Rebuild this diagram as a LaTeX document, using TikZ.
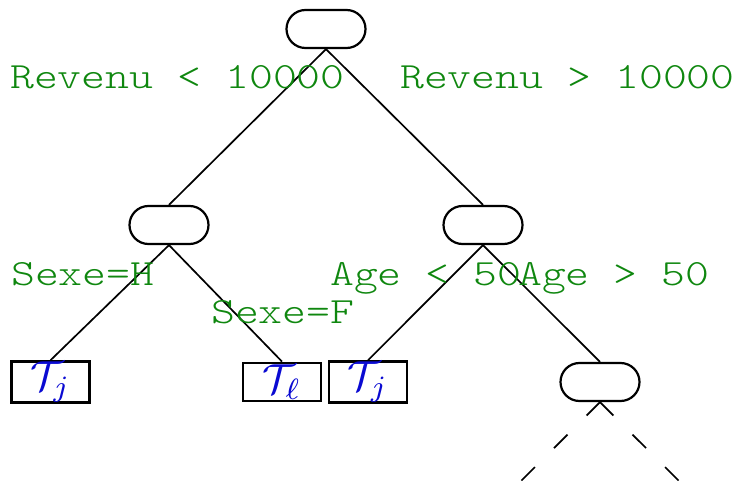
\documentclass[tikz,border=0pt]{standalone}
\usepackage{graphicx}
\usepackage{fontspec}
\usetikzlibrary{shapes.misc}
\newfontfamily\labelfont{lmmonolt10-regular.otf}[FakeStretch=1.23]
\definecolor{labelgreen}{RGB}{15,135,15}
\definecolor{leafblue}{RGB}{10,10,210}
\newcommand{\leaftext}[1]{\scalebox{4.2}{$#1$}}
\tikzset{
    test/.style={rounded rectangle, draw, line width=2.2pt, minimum width=79pt, minimum height=38pt, inner sep=0pt},
    leaf/.style={rectangle, draw, line width=2.8pt, minimum width=78pt, minimum height=38pt, inner sep=0pt, text=leafblue},
    cond/.style={anchor=base west, inner sep=0pt, text=labelgreen, font=\fontsize{37}{44}\labelfont},
    branch/.style={line width=1.7pt}
}
\begin{document}
\begin{tikzpicture}[x=1pt,y=-1pt]
    \useasboundingbox (0,0) rectangle (736,481);
    % Tests
    \node[test] (root) at (326,29) {};
    \node[test] (sexe) at (169,225) {};
    \node[test] (age) at (483,225) {};
    \node[test] (agebis) at (600,382) {};
    % Leaves
    \node[leaf] (leafj) at (50.5,382) {\leaftext{\mathcal{T}_j}};
    \node[leaf] (leafl) at (282,382) {\leaftext{\mathcal{T}_\ell}};
    \node[leaf] (leafjj) at (368,382) {\leaftext{\mathcal{T}_j}};
    % Branches
    \draw[branch] (root.south) -- (sexe.north);
    \draw[branch] (root.south) -- (age.north);
    \draw[branch] (sexe.south) -- (leafj.north);
    \draw[branch] (sexe.south) -- (leafl.north);
    \draw[branch] (age.south) -- (leafjj.north);
    \draw[branch] (age.south) -- (agebis.north);
    % Rest of the tree
    \coordinate (cutl) at (515,487);
    \coordinate (cutr) at (685,487);
    \foreach \c in {cutl,cutr} {
        \draw[branch,dash pattern=on 19pt off 27pt] (agebis.south) -- (\c);
    }
    % Conditions
    \node[cond] (revinf) at (10,89) {Revenu < 10000};
    \node[cond] (revsup) at (400,89) {Revenu > 10000};
    \node[cond] (sexeh) at (11,285) {Sexe=H};
    \node[cond] (sexef) at (211,323) {Sexe=F};
    \node[cond] (ageinf) at (330,285) {Age < 50};
    \node[cond] (agesup) at (518,285) {Age > 50};
\end{tikzpicture}
\end{document}
